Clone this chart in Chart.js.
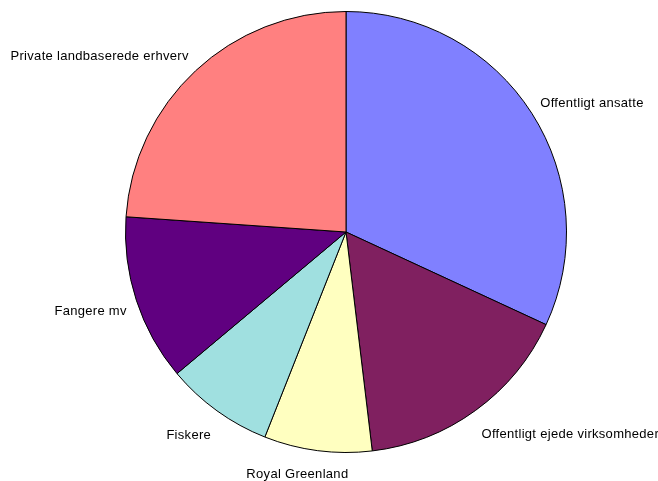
<!DOCTYPE html>
<html>
<head>
<meta charset="utf-8">
<title>Beskæftigede fordelt på erhverv</title>
<script src="https://cdn.jsdelivr.net/npm/chart.js@4/dist/chart.umd.min.js"></script>
<style>
    html, body { margin: 0; padding: 0; background: #ffffff; }
    #sectorChart { display: block; }
</style>
</head>
<body>
<canvas id="sectorChart" width="658" height="481"></canvas>
<script>
// Sectors, clockwise from 12 o'clock
const sectors = [
    'Offentligt ansatte',
    'Offentligt ejede virksomheder',
    'Royal Greenland',
    'Fiskere',
    'Fangere mv',
    'Private landbaserede erhverv'
];

// Share of employed (%)
const shares = [31.9, 16.2, 7.9, 7.9, 12.2, 23.9];

const sliceColors = ['#8080FF', '#802060', '#FFFFC0', '#A0E0E0', '#600080', '#FF8080'];

// Draws the category name just outside each slice, Excel style
const outsideLabels = {
    id: 'outsideLabels',
    afterDatasetsDraw(chart, args, opts) {
        const ctx = chart.ctx;
        const meta = chart.getDatasetMeta(0);
        ctx.save();
        ctx.font = opts.font;
        ctx.letterSpacing = opts.letterSpacing;
        ctx.fillStyle = '#000000';
        ctx.textBaseline = 'middle';
        meta.data.forEach((arc, i) => {
            const p = arc.getProps(['x', 'y', 'startAngle', 'endAngle', 'outerRadius'], true);
            const mid = (p.startAngle + p.endAngle) / 2;
            const dx = Math.cos(mid);
            const dy = Math.sin(mid);
            const nudge = opts.nudge[i] || [0, 0];
            const x = p.x + dx * (p.outerRadius + opts.gapX) + nudge[0];
            const y = p.y + dy * (p.outerRadius + opts.gapY) + opts.shiftY + nudge[1];
            if (Math.abs(dx) < 0.2) {
                ctx.textAlign = 'center';
            } else {
                ctx.textAlign = dx > 0 ? 'left' : 'right';
            }
            ctx.fillText(chart.data.labels[i], x, y);
        });
        ctx.restore();
    }
};

const chart = new Chart(document.getElementById('sectorChart'), {
    type: 'pie',
    data: {
        labels: sectors,
        datasets: [{
            data: shares,
            backgroundColor: sliceColors,
            borderColor: '#000000',
            borderWidth: 1
        }]
    },
    options: {
        responsive: false,
        animation: false,
        rotation: 0,
        layout: {
            padding: { top: 11, bottom: 28, left: 125, right: 91 }
        },
        plugins: {
            legend: { display: false },
            tooltip: { enabled: false },
            outsideLabels: {
                font: '13px "Liberation Sans", Arial, sans-serif',
                letterSpacing: '0.3px',
                gapX: 10,
                gapY: 25,
                shiftY: 4,
                // Royal Greenland sits a little left of its slice
                nudge: { 2: [-19, -5] }
            }
        }
    },
    plugins: [outsideLabels]
});
</script>
</body>
</html>
